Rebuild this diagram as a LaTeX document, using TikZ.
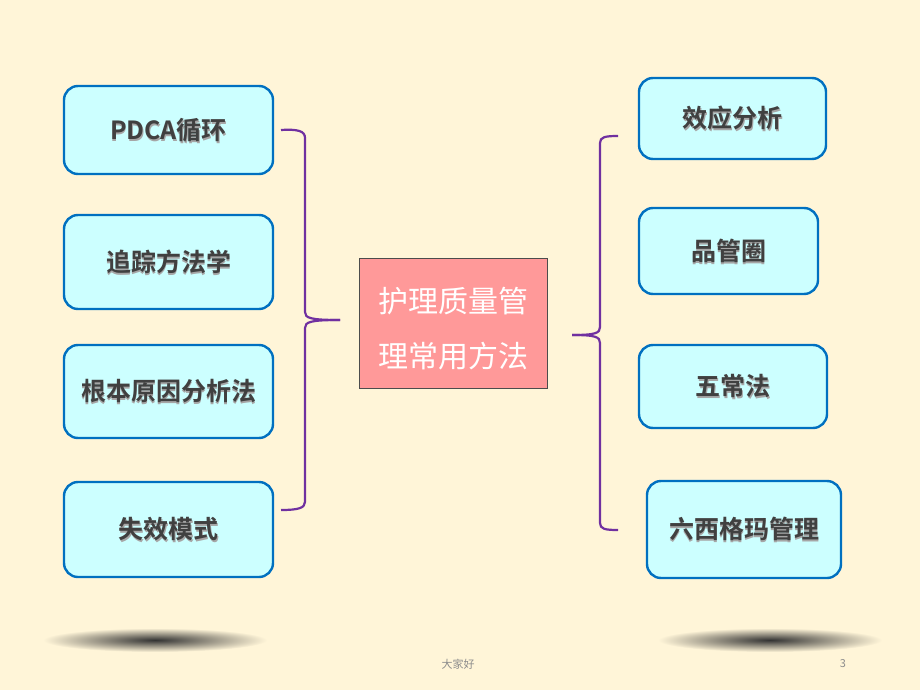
\documentclass[tikz,border=0pt]{standalone}
\usepackage{fontspec}
\setmainfont{Noto Sans CJK SC}[BoldFont={Noto Sans CJK SC Bold}]
\newfontfamily\cjk{Noto Sans CJK SC}[BoldFont={Noto Sans CJK SC Bold}]
\definecolor{bg}{HTML}{FFF5D8}
\definecolor{boxfill}{HTML}{CCFFFF}
\definecolor{boxline}{HTML}{0070C0}
\definecolor{brace}{HTML}{7030A0}
\definecolor{pinkfill}{HTML}{FF9999}
\definecolor{txt}{HTML}{404040}
\newcommand{\shtext}[1]{\makebox[0pt]{\raisebox{-1.5pt}{\hspace*{1.8pt}\textcolor{black!35}{#1}}}\makebox[0pt]{\textcolor{txt}{#1}}}
\tikzset{
  methodbox/.style={draw=boxline, line width=2.4pt, fill=boxfill, rounded corners=14pt},
  methodtext/.style={font=\cjk\bfseries\fontsize{25}{28}\selectfont, inner sep=0pt},
  bracestyle/.style={draw=brace, line width=2.2pt, line join=round},
}
\begin{document}
\begin{tikzpicture}[x=1pt,y=-1pt]
\fill[bg] (0,0) rectangle (920,690);
\useasboundingbox (0,0) rectangle (920,690);
% shadows
\shade[inner color=black!80, outer color=bg] (155,640) ellipse (112 and 12);
\shade[inner color=black!80, outer color=bg] (770,640) ellipse (112 and 12);
% left boxes
\draw[methodbox] (64,86) rectangle (273,174);
\node[methodtext] (l1) at (168.5,131) {\shtext{PDCA循环}};
\draw[methodbox] (64,215) rectangle (273,309);
\node[methodtext] (l2) at (168.5,263) {\shtext{追踪方法学}};
\draw[methodbox] (64,345) rectangle (273,438);
\node[methodtext] (l3) at (168.5,392) {\shtext{根本原因分析法}};
\draw[methodbox] (64,482) rectangle (273,577);
\node[methodtext] (l4) at (168.5,530) {\shtext{失效模式}};
% right boxes
\draw[methodbox] (639,78) rectangle (826,159);
\node[methodtext] (r1) at (732.5,119) {\shtext{效应分析}};
\draw[methodbox] (639,208) rectangle (818,294);
\node[methodtext] (r2) at (728.5,252) {\shtext{品管圈}};
\draw[methodbox] (639,345) rectangle (827,428);
\node[methodtext] (r3) at (733,387) {\shtext{五常法}};
\draw[methodbox] (647,481) rectangle (841,578);
\node[methodtext] (r4) at (744,530) {\shtext{六西格玛管理}};
% center
\node[draw=black!70, line width=0.8pt, fill=pinkfill, minimum width=188pt, minimum height=130pt, inner sep=0pt] (c) at (453,323) {};
\node[font=\cjk\fontsize{30}{55}\selectfont, text=white, align=center] (ct) at (453,329) {护理质量管\\理常用方法};
% left brace
\coordinate (la) at (281,130);
\coordinate (lb) at (281,510);
\coordinate (lt) at (340,320);
\draw[bracestyle] (la) .. controls (298,129) and (305,131) .. (305,138) -- (305,312) .. controls (305,318) and (310,320) .. (lt);
\draw[bracestyle] (lt) .. controls (310,320) and (305,322) .. (305,328) -- (305,502) .. controls (305,508) and (298,510) .. (lb);
% right brace
\coordinate (ra) at (618,136);
\coordinate (rb) at (618,530);
\coordinate (rt) at (572,335);
\draw[bracestyle] (ra) .. controls (605,136) and (600,137) .. (600,143) -- (600,327) .. controls (600,333) and (596,335) .. (rt);
\draw[bracestyle] (rt) .. controls (596,335) and (600,337) .. (600,343) -- (600,523) .. controls (600,529) and (605,530) .. (rb);
% footer
\node[font=\cjk\fontsize{11}{12}\selectfont, text=black!45] (foot) at (458,664) {大家好};
\node[font=\cjk\fontsize{11}{12}\selectfont, text=black!45] (pg) at (843,664) {3};
\end{tikzpicture}
\end{document}
